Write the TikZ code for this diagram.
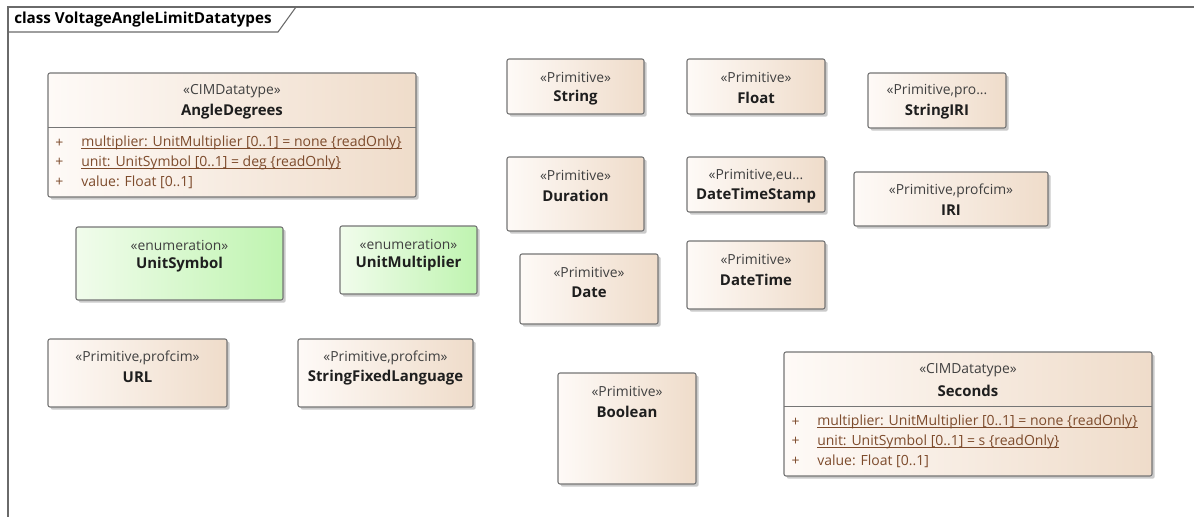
\documentclass[tikz,border=0pt]{standalone}
\usepackage{fontspec}
\setmainfont{Open Sans}
\usetikzlibrary{shadows}

\newcommand\attrul[1]{\setbox0\hbox{#1}\rlap{\rule[-1.7pt]{\wd0}{0.55pt}}\box0}

\definecolor{frameline}{HTML}{6A6A6A}
\definecolor{boxline}{HTML}{757575}
\definecolor{primleft}{HTML}{FEFAF7}
\definecolor{primright}{HTML}{EFDCCA}
\definecolor{enumleft}{HTML}{F1FCEC}
\definecolor{enumright}{HTML}{BFF4B0}
\definecolor{stereotxt}{HTML}{404040}
\definecolor{nametxt}{HTML}{1E1E1E}
\definecolor{attrtxt}{HTML}{7D4B2C}

\tikzset{
  prim/.style={draw=boxline, line width=0.8pt, rounded corners=1.5pt,
    left color=primleft, right color=primright,
    drop shadow={shadow xshift=2pt, shadow yshift=-2pt, opacity=0.35, fill=black!60}},
  enum/.style={prim, left color=enumleft, right color=enumright},
  stereo/.style={inner sep=0pt, text=stereotxt, font=\fontsize{10.4}{12}\selectfont},
  cname/.style={inner sep=0pt, text=nametxt, font=\fontsize{11.2}{13}\selectfont\bfseries},
  attr/.style={inner sep=0pt, anchor=west, text=attrtxt, font=\fontsize{10.5}{12}\selectfont},
}

\begin{document}
\begin{tikzpicture}[x=0.75pt,y=-0.75pt]
\useasboundingbox (0,0) rectangle (1194,517);

% frame of the diagram
\coordinate (frame) at (8,7);
\coordinate (tab) at (296,7);
\draw[frameline, line width=1pt] (1194,7) -- (frame) -- (8,517);
\draw[frameline, line width=0.8pt] (tab) -- ++(-18,25) -- (8,32);
\node[anchor=west, inner sep=0pt, font=\fontsize{11.4}{13}\selectfont\bfseries] (title) at (14,20)
  {class VoltageAngleLimitDatatypes};

% primitives
\foreach \nm/\x/\y/\w/\h/\st/\lab in {
  string/507/59/137/55/«Primitive»/String,
  float/687/59/138/55/«Primitive»/Float,
  stringiri/868/73/138/55/{«Primitive,pro...}/StringIRI,
  duration/507/157/137/74/«Primitive»/Duration,
  datetimestamp/687/157/138/55/{«Primitive,eu...}/DateTimeStamp,
  iri/854/172/194/54/{«Primitive,profcim»}/IRI,
  date/520/254/138/70/«Primitive»/Date,
  datetime/687/241/138/68/«Primitive»/DateTime,
  boolean/558/373/138/111/«Primitive»/Boolean,
  url/48/339/179/68/{«Primitive,profcim»}/URL,
  stringfixedlanguage/298/339/175/68/{«Primitive,profcim»}/StringFixedLanguage}
{
  \coordinate (\nm) at (\x,\y);
  \draw[prim] (\nm) rectangle ++(\w,\h);
  \node[stereo] (\nm-st) at ([shift={(\w/2,18.5)}]\nm) {\st};
  \node[cname] (\nm-name) at ([shift={(\w/2,38.5)}]\nm) {\lab};
}

% enumerations
\foreach \nm/\x/\y/\w/\h/\lab in {
  unitsymbol/76/227/207/73/UnitSymbol,
  unitmultiplier/340/226/137/68/UnitMultiplier}
{
  \coordinate (\nm) at (\x,\y);
  \draw[enum] (\nm) rectangle ++(\w,\h);
  \node[stereo] (\nm-st) at ([shift={(\w/2,18.5)}]\nm) {«enumeration»};
  \node[cname] (\nm-name) at ([shift={(\w/2,38)}]\nm) {\lab};
}

% CIM datatypes with attributes
\foreach \nm/\x/\y/\lab/\unit in {angledeg/48/73/AngleDegrees/deg, seconds/784/352/Seconds/s}
{
  \coordinate (\nm) at (\x,\y);
  \draw[prim] (\nm) rectangle ++(368,124);
  \draw[boxline, line width=0.8pt] ([yshift=-54.5*0.75pt]\nm) -- ++(368,0);
  \node[stereo] (\nm-st) at ([shift={(184,18.5)}]\nm) {«CIMDatatype»};
  \node[cname] (\nm-name) at ([shift={(184,38.5)}]\nm) {\lab};
  \foreach \i/\dy in {1/70, 2/89.5, 3/109}
    \node[attr, anchor=center] (\nm-plus\i) at ([shift={(11.5,\dy)}]\nm) {+};
  \node[attr] (\nm-a1) at ([shift={(33,70)}]\nm)
    {\attrul{multiplier: UnitMultiplier [0..1] = none \{readOnly\}}};
  \node[attr] (\nm-a2) at ([shift={(33,89.5)}]\nm)
    {\attrul{unit: UnitSymbol [0..1] = \unit\ \{readOnly\}}};
  \node[attr] (\nm-a3) at ([shift={(33,109)}]\nm) {value: Float [0..1]};
}
\end{tikzpicture}
\end{document}
